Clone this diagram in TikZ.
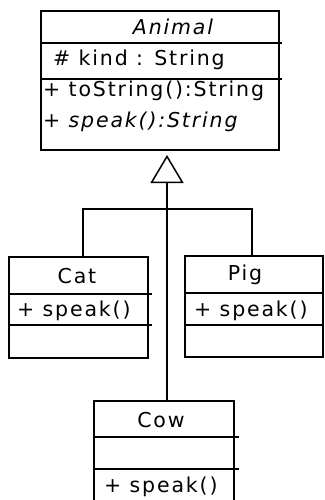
\documentclass[tikz,border=0pt]{standalone}
\usepackage{fontspec}
\setmainfont{DejaVu Sans}[LetterSpace=9]
\usetikzlibrary{arrows.meta,calc}
\begin{document}
\begin{tikzpicture}[x=1pt,y=-1pt,
  cls/.style={draw=black,line width=2pt,inner sep=0pt,fill=white},
  txt/.style={inner sep=0pt,font=\fontsize{20.5}{22}\selectfont},
  ln/.style={line width=2pt}]
\useasboundingbox[fill=white] (0,0) rectangle (324,500);
% classes
\node[cls,minimum width=238pt,minimum height=139pt] (animal) at (160,80.5) {};
\node[cls,minimum width=139pt,minimum height=101pt] (cat) at (78.5,307.5) {};
\node[cls,minimum width=138pt,minimum height=101pt] (pig) at (254,306.5) {};
\node[cls,minimum width=140pt,minimum height=120pt] (cow) at (164,461) {};
% dividers
\draw[ln] ($(animal.north west)+(0,33)$) -- ++(242,0);
\draw[ln] ($(animal.north west)+(0,69)$) -- ++(242,0);
\draw[ln] ($(cat.north west)+(0,38)$) -- ++(144,0);
\draw[ln] ($(cat.north west)+(0,69)$) -- ++(144,0);
\draw[ln] ($(pig.north west)+(0,38)$) -- ++(140,0);
\draw[ln] ($(pig.north west)+(0,70)$) -- ++(140,0);
\draw[ln] ($(cow.north west)+(0,37)$) -- ++(146,0);
\draw[ln] ($(cow.north west)+(0,69)$) -- ++(146,0);
% texts
\node[txt,font=\fontsize{20.5}{22}\selectfont\itshape] (tanimal) at (173,27) {Animal};
\node[txt,anchor=west] (tkind) at (53,60) {\# kind : String};
\node[txt,anchor=west] (ttostr) at (43,91) {+ toString():String};
\node[txt,anchor=west] (tspeak) at (43,122) {+ \textit{speak():String}};
\node[txt] (tcat) at (77,276) {Cat};
\node[txt,anchor=west] (tcats) at (17,311) {+ speak()};
\node[txt] (tpig) at (245,275) {Pig};
\node[txt,anchor=west] (tpigs) at (194,311) {+ speak()};
\node[txt] (tcow) at (161,420) {Cow};
\node[txt,anchor=west] (tcows) at (104,487) {+ speak()};
% generalization
\coordinate (junc) at (167,209);
\draw[ln,-{Triangle[open,length=28pt,width=33pt,line width=1.5pt]},shorten >=4pt]
  (cow.north -| junc) -- (animal.south -| junc);
\draw[ln] (cat.north -| 83,0) |- (junc) -| (pig.north -| 252,0);
\end{tikzpicture}
\end{document}
